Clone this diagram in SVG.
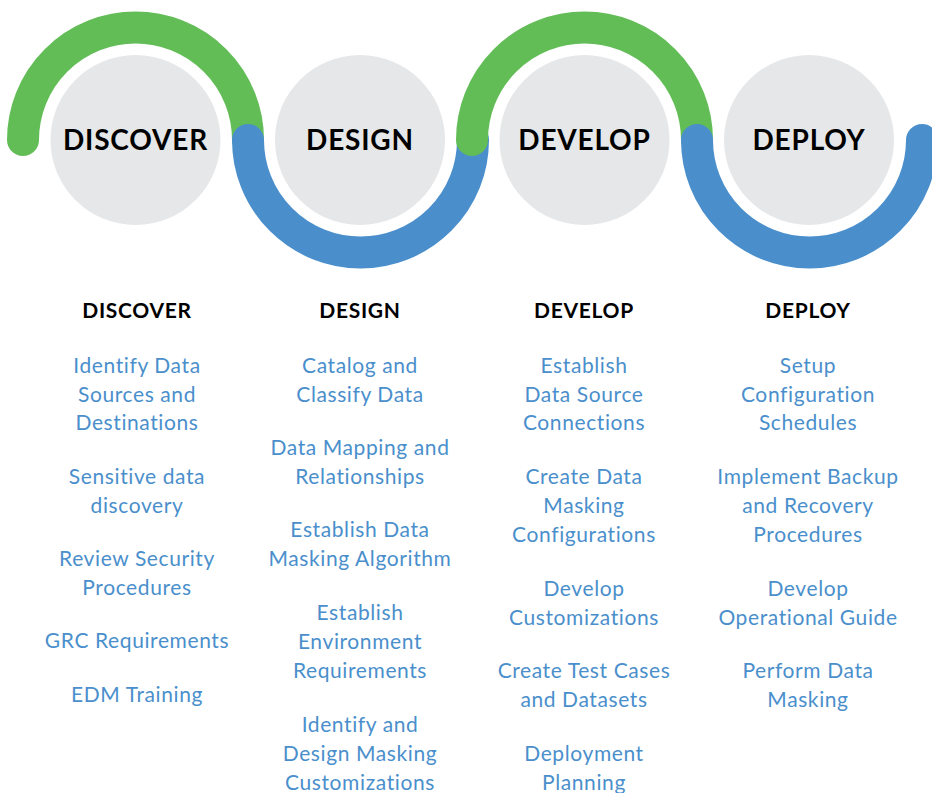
<svg xmlns="http://www.w3.org/2000/svg" width="932" height="793" viewBox="0 0 932 793">
<style>
.arc{fill:none;stroke-width:32;stroke-linecap:round}
.g{stroke:#62BD57}
.b{stroke:#4A8FCC}
.circ{fill:#E6E7E8}
.ct{font-family:Lato,"Liberation Sans",sans-serif;font-weight:bold;font-size:28px;letter-spacing:0.8px;fill:#000;text-anchor:middle}
.hd{font-family:Lato,"Liberation Sans",sans-serif;font-weight:bold;font-size:21px;letter-spacing:0.7px;fill:#000;text-anchor:middle}
.it{font-family:Lato,"Liberation Sans",sans-serif;font-size:21px;letter-spacing:0.6px;fill:#4A8FCC;text-anchor:middle}
</style>
<rect width="932" height="793" fill="#fff"/>
<g id="connectors">
<path class="arc g" d="M 23 140 A 112.5 112.5 0 0 1 248 140"/>
<path class="arc b" d="M 248 140 A 112.5 112.5 0 0 0 473 140"/>
<path class="arc g" d="M 472 140 A 112.5 112.5 0 0 1 697 140"/>
<path class="arc b" d="M 697 140 A 112.5 112.5 0 0 0 922 140"/>
</g>
<g id="discover">
<circle class="circ" cx="135.5" cy="140" r="85"/>
<text class="ct" x="135.5" y="150">DISCOVER</text>
</g>
<g id="design">
<circle class="circ" cx="360" cy="140" r="85"/>
<text class="ct" x="360" y="150">DESIGN</text>
</g>
<g id="develop">
<circle class="circ" cx="584.5" cy="140" r="85"/>
<text class="ct" x="584.5" y="150">DEVELOP</text>
</g>
<g id="deploy">
<circle class="circ" cx="809" cy="140" r="85"/>
<text class="ct" x="809" y="150">DEPLOY</text>
</g>
<g id="col-discover">
<text class="hd" x="137" y="318">DISCOVER</text>
<text class="it" x="137" y="373">Identify Data</text>
<text class="it" x="137" y="401.5">Sources and</text>
<text class="it" x="137" y="430">Destinations</text>
<text class="it" x="137" y="484">Sensitive data</text>
<text class="it" x="137" y="513">discovery</text>
<text class="it" x="137" y="566">Review Security</text>
<text class="it" x="137" y="595">Procedures</text>
<text class="it" x="137" y="648">GRC Requirements</text>
<text class="it" x="137" y="701.5">EDM Training</text>
</g>
<g id="col-design">
<text class="hd" x="360" y="318">DESIGN</text>
<text class="it" x="360" y="373">Catalog and</text>
<text class="it" x="360" y="401.5">Classify Data</text>
<text class="it" x="360" y="454.5">Data Mapping and</text>
<text class="it" x="360" y="483.5">Relationships</text>
<text class="it" x="360" y="537">Establish Data</text>
<text class="it" x="360" y="566">Masking Algorithm</text>
<text class="it" x="360" y="620">Establish</text>
<text class="it" x="360" y="649">Environment</text>
<text class="it" x="360" y="678">Requirements</text>
<text class="it" x="360" y="732">Identify and</text>
<text class="it" x="360" y="761">Design Masking</text>
<text class="it" x="360" y="789.5">Customizations</text>
</g>
<g id="col-develop">
<text class="hd" x="584" y="318">DEVELOP</text>
<text class="it" x="584" y="373">Establish</text>
<text class="it" x="584" y="401.5">Data Source</text>
<text class="it" x="584" y="430">Connections</text>
<text class="it" x="584" y="484">Create Data</text>
<text class="it" x="584" y="513">Masking</text>
<text class="it" x="584" y="542">Configurations</text>
<text class="it" x="584" y="596">Develop</text>
<text class="it" x="584" y="625">Customizations</text>
<text class="it" x="584" y="678">Create Test Cases</text>
<text class="it" x="584" y="707">and Datasets</text>
<text class="it" x="584" y="761">Deployment</text>
<text class="it" x="584" y="789.5">Planning</text>
</g>
<g id="col-deploy">
<text class="hd" x="808" y="318">DEPLOY</text>
<text class="it" x="808" y="373">Setup</text>
<text class="it" x="808" y="401.5">Configuration</text>
<text class="it" x="808" y="430">Schedules</text>
<text class="it" x="808" y="484">Implement Backup</text>
<text class="it" x="808" y="513">and Recovery</text>
<text class="it" x="808" y="542">Procedures</text>
<text class="it" x="808" y="596">Develop</text>
<text class="it" x="808" y="625">Operational Guide</text>
<text class="it" x="808" y="678">Perform Data</text>
<text class="it" x="808" y="707">Masking</text>
</g>
</svg>
